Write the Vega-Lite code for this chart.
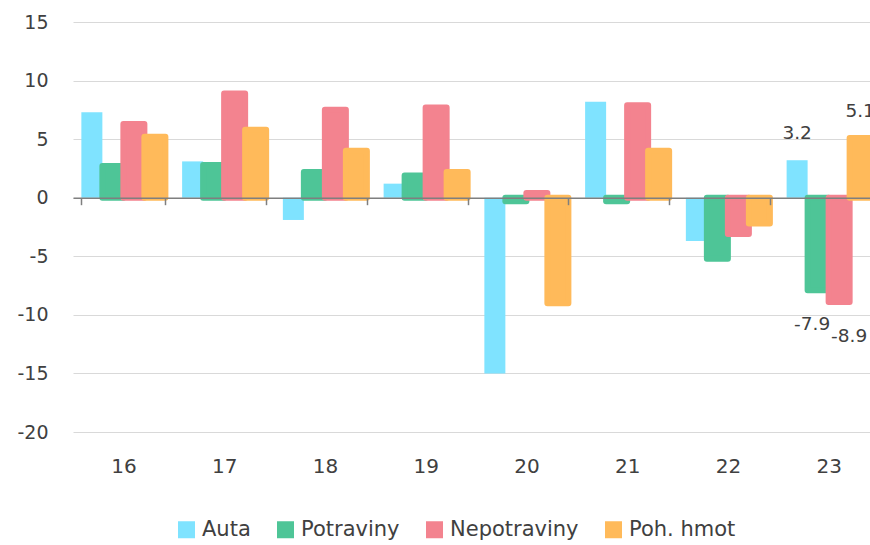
{
  "$schema": "https://vega.github.io/schema/vega-lite/v6.json",
  "autosize": {"type": "none"},
  "padding": {"left": 72, "top": 22, "right": 0, "bottom": 113},
  "width": 798,
  "height": 410,
  "background": "white",
  "config": {
    "font": "DejaVu Sans",
    "locale": {"number": {"decimal": ".", "thousands": ",", "grouping": [3], "currency": ["", ""], "minus": "-"}},
    "view": {"stroke": null},
    "axis": {"labelColor": "#404040", "title": null}
  },
  "data": {
    "values": [
      {"cat": "16", "series": "Auta", "value": 7.3},
      {"cat": "17", "series": "Auta", "value": 3.1},
      {"cat": "18", "series": "Auta", "value": -1.9},
      {"cat": "19", "series": "Auta", "value": 1.2},
      {"cat": "20", "series": "Auta", "value": -15.0},
      {"cat": "21", "series": "Auta", "value": 8.2},
      {"cat": "22", "series": "Auta", "value": -3.7},
      {"cat": "23", "series": "Auta", "value": 3.2},
      {"cat": "16", "series": "Potraviny", "value": 2.7},
      {"cat": "17", "series": "Potraviny", "value": 2.8},
      {"cat": "18", "series": "Potraviny", "value": 2.2},
      {"cat": "19", "series": "Potraviny", "value": 1.9},
      {"cat": "20", "series": "Potraviny", "value": -0.3},
      {"cat": "21", "series": "Potraviny", "value": -0.3},
      {"cat": "22", "series": "Potraviny", "value": -5.2},
      {"cat": "23", "series": "Potraviny", "value": -7.9},
      {"cat": "16", "series": "Nepotraviny", "value": 6.3},
      {"cat": "17", "series": "Nepotraviny", "value": 8.9},
      {"cat": "18", "series": "Nepotraviny", "value": 7.5},
      {"cat": "19", "series": "Nepotraviny", "value": 7.7},
      {"cat": "20", "series": "Nepotraviny", "value": 0.4},
      {"cat": "21", "series": "Nepotraviny", "value": 7.9},
      {"cat": "22", "series": "Nepotraviny", "value": -3.1},
      {"cat": "23", "series": "Nepotraviny", "value": -8.9},
      {"cat": "16", "series": "Poh. hmot", "value": 5.2},
      {"cat": "17", "series": "Poh. hmot", "value": 5.8},
      {"cat": "18", "series": "Poh. hmot", "value": 4.0},
      {"cat": "19", "series": "Poh. hmot", "value": 2.2},
      {"cat": "20", "series": "Poh. hmot", "value": -9.0},
      {"cat": "21", "series": "Poh. hmot", "value": 4.0},
      {"cat": "22", "series": "Poh. hmot", "value": -2.2},
      {"cat": "23", "series": "Poh. hmot", "value": 5.1}
    ]
  },
  "encoding": {
    "x": {
      "field": "cat", "type": "ordinal",
      "scale": {"range": [1, 807], "paddingInner": 0.166, "paddingOuter": 0.083},
      "axis": {
        "offset": -234.3,
        "zindex": 1,
        "domainColor": "#7f7f7f", "domainWidth": 1.5,
        "ticks": true, "tickBand": "extent", "tickColor": "#7f7f7f", "tickSize": 7, "tickWidth": 1.5,
        "grid": false,
        "labelAngle": 0,
        "labelFontSize": 20,
        "labelBaseline": "alphabetic",
        "labelPadding": 268
      }
    },
    "xOffset": {
      "field": "series", "type": "nominal",
      "scale": {"domain": ["Auta", "Potraviny", "Nepotraviny", "Poh. hmot"], "paddingInner": 0, "paddingOuter": 0}
    },
    "y": {
      "field": "value", "type": "quantitative",
      "scale": {"domain": [-20, 15], "nice": false, "zero": false},
      "axis": {
        "values": [-20, -15, -10, -5, 0, 5, 10, 15],
        "domain": false, "ticks": false,
        "grid": true, "gridColor": "#d9d9d9", "gridWidth": 1.2,
        "labelFontSize": 19,
        "labelPadding": 24
      }
    }
  },
  "layer": [
    {
      "mark": {"type": "bar", "strokeJoin": "round"},
      "encoding": {
        "color": {
          "field": "series", "type": "nominal",
          "scale": {"domain": ["Auta", "Potraviny", "Nepotraviny", "Poh. hmot"], "range": ["#7fe3ff", "#4ec597", "#f3838f", "#ffba5a"]},
          "legend": {
            "title": null, "orient": "none", "direction": "horizontal",
            "legendX": 104, "legendY": 497, "padding": 0,
            "symbolType": "square", "symbolSize": 289, "symbolOpacity": 1, "symbolStrokeWidth": 0,
            "labelFontSize": 21, "labelColor": "#404040", "labelOffset": 5,
            "columnPadding": 24
          }
        },
        "stroke": {
          "field": "series", "type": "nominal",
          "scale": {"domain": ["Auta", "Potraviny", "Nepotraviny", "Poh. hmot"], "range": ["#7fe3ff", "#4ec597", "#f3838f", "#ffba5a"]},
          "legend": null
        },
        "strokeWidth": {
          "condition": {"test": "datum.series == 'Auta'", "value": 0},
          "value": 6
        }
      }
    },
    {
      "transform": [{"filter": "datum.cat == '23' && datum.value > 0"}],
      "mark": {"type": "text", "baseline": "alphabetic", "dy": -21, "fontSize": 18.5, "color": "#404040"},
      "encoding": {"text": {"field": "value", "type": "quantitative", "format": ".1f"}}
    },
    {
      "transform": [{"filter": "datum.cat == '23' && datum.series == 'Potraviny'"}],
      "mark": {"type": "text", "baseline": "alphabetic", "dy": 40, "dx": -6, "fontSize": 18.5, "color": "#404040"},
      "encoding": {"text": {"field": "value", "type": "quantitative", "format": ".1f"}}
    },
    {
      "transform": [{"filter": "datum.cat == '23' && datum.series == 'Nepotraviny'"}],
      "mark": {"type": "text", "baseline": "alphabetic", "dy": 40, "dx": 10, "fontSize": 18.5, "color": "#404040"},
      "encoding": {"text": {"field": "value", "type": "quantitative", "format": ".1f"}}
    }
  ]
}
